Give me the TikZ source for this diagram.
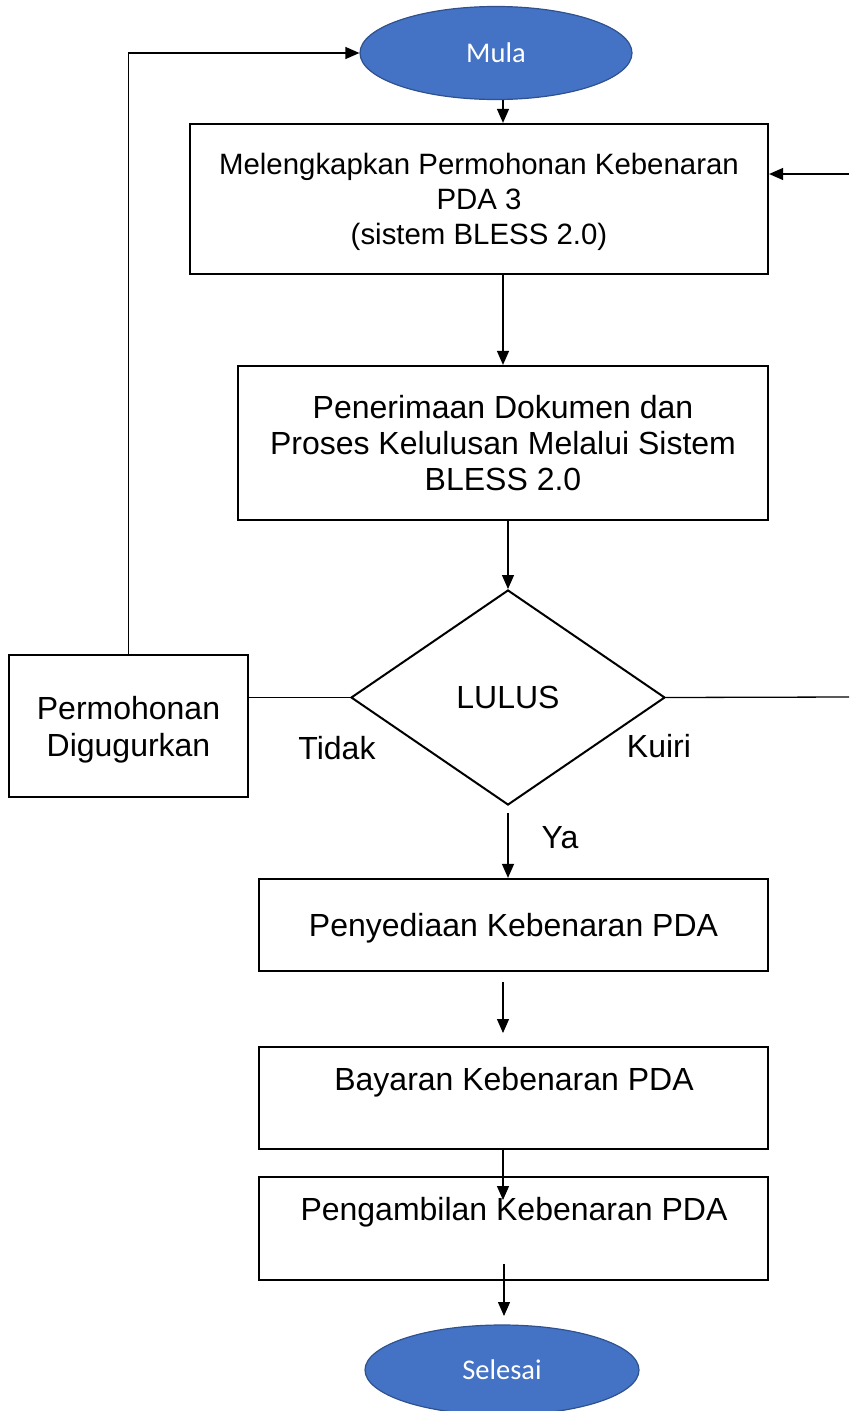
\documentclass[tikz,border=0pt]{standalone}
\usepackage{fontspec}
\setmainfont{Liberation Sans}
\newfontfamily\calibri{Carlito}
\usetikzlibrary{shapes.geometric,arrows.meta}
\definecolor{ovalblue}{HTML}{4472C4}
\definecolor{ovaledge}{HTML}{2F528F}
\begin{document}
\begin{tikzpicture}[x=1pt,y=-1pt,font=\fontsize{32}{36}\selectfont,
  box/.style={draw,line width=2.2pt,inner sep=0pt,align=center},
  oval/.style={ellipse,draw=ovaledge,line width=1.2pt,fill=ovalblue,text=white,inner sep=0pt,font=\calibri\fontsize{28.5}{32}\selectfont},
  line/.style={line width=1.3pt},
  arr/.style={line width=1.3pt,-{Triangle[length=14pt,width=12pt]}}]
\clip (0,0) rectangle (849,1411);
\node[oval,minimum width=272pt,minimum height=93pt] (mula) at (496,53){Mula};
\node[box,text depth=0pt,minimum width=578pt,minimum height=150pt,font=\fontsize{29.4}{35}\selectfont] (b1) at (479,199){Melengkapkan Permohonan Kebenaran\\PDA 3\\(sistem BLESS 2.0)};
\node[box,minimum width=530pt,minimum height=154pt] (b2) at (503,443){Penerimaan Dokumen dan\\Proses Kelulusan Melalui Sistem\\BLESS 2.0};
\node[diamond,draw,line width=2pt,inner sep=0pt,minimum width=314pt,minimum height=215pt] (dia) at (508,697.5){LULUS};
\node[box,text depth=0pt,minimum width=239pt,minimum height=142pt,font=\fontsize{32}{37}\selectfont] (perm) at (128.5,726){Permohonan\\Digugurkan};
\node (tidak) at (337,748){Tidak};
\node (kuiri) at (659,746){Kuiri};
\node (ya) at (560,838){Ya};
\node[box,text depth=0pt,minimum width=509pt,minimum height=92pt] (b3) at (513.5,925){Penyediaan Kebenaran PDA};
\node[box,minimum width=509pt,minimum height=102pt] (b4) at (513.5,1098){};
\node (b4text) at (514,1082){Bayaran Kebenaran PDA};
\node[box,line width=1.8pt,minimum width=509pt,minimum height=103pt] (b5) at (513.5,1228.5){};
\node (b5text) at (514,1212){Pengambilan Kebenaran PDA};
\node[oval,minimum width=274pt,minimum height=90pt] (sel) at (502,1370){Selesai};
% connectors
\coordinate (mulaout) at (503,100);
\coordinate (rightin) at (849,174);
\coordinate (rightout) at (849,697);
\coordinate (a3) at (503,982);
\coordinate (a4) at (503,1033);
\coordinate (a6) at (503,1200);
\coordinate (a7) at (504,1264);
\coordinate (a8) at (504,1316);
\draw[arr] (perm.north) |- (mula.west);
\draw[arr] (mulaout) -- (mulaout |- b1.north);
\draw[arr] (rightin) -- (rightin -| b1.east);
\draw[arr] (b2.north |- b1.south) -- (b2.north);
\draw[arr] (dia.north |- b2.south) -- (dia.north);
\draw[line] (dia.west) -- (dia.west -| perm.east);
\draw[line] (dia.east) -- (rightout);
\draw[arr,shorten <=7pt] (dia.south) -- (dia.south |- b3.north);
\draw[arr] (a3) -- (a4);
\draw[arr] (a6 |- b4.south) -- (a6);
\draw[arr] (a7) -- (a8);
\end{tikzpicture}
\end{document}
